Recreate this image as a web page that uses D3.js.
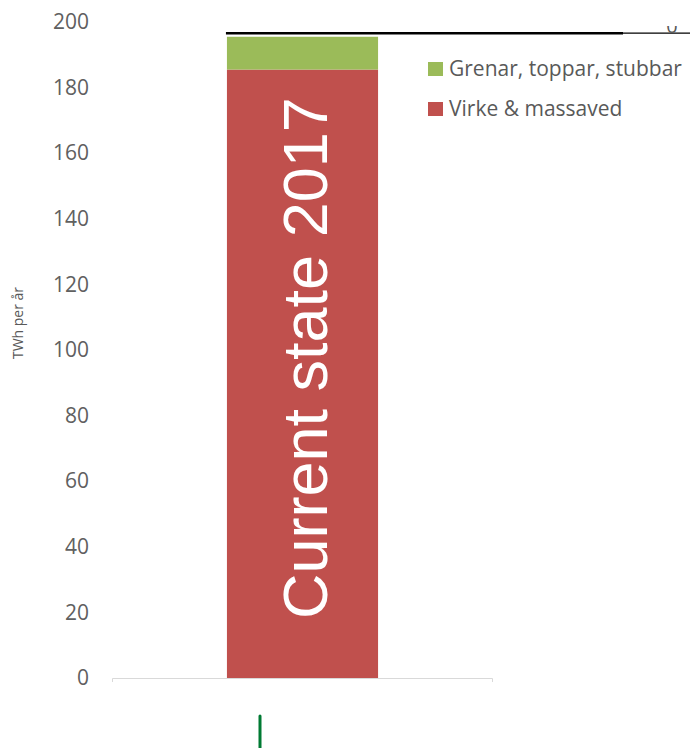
<!DOCTYPE html>
<html>
<head>
    <script src="https://d3js.org/d3.v7.min.js"></script>
    <style>
        body {
            margin: 0;
            background-color: white;
        }

        svg text {
            font-family: 'Open Sans', sans-serif;
        }
    </style>
</head>
<body>
    <svg id="chart" width="690" height="748"></svg>
    <script>
        // data
        var categories = ['Current state 2017'];
        var seriesNames = ['Virke & massaved', 'Grenar, toppar, stubbar'];
        var virke = [185.5];
        var grenar = [10];
        var yTicks = [0, 20, 40, 60, 80, 100, 120, 140, 160, 180, 200];
        var lineValue = 196.6;
        var colors = ['#C0504D', '#9BBB59'];

        var svg = d3.select('#chart');

        var y = d3.scaleLinear().domain([0, 200]).range([678, 22]);
        var x = d3.scaleBand().domain(categories).range([112, 493])
            .paddingInner(0.432).paddingOuter(0.432);

        // y tick labels (no axis line in original)
        var yAxis = d3.axisLeft(y).tickValues(yTicks).tickSize(0).tickPadding(0);
        var gy = svg.append('g')
            .attr('transform', 'translate(89,0)')
            .call(yAxis);
        gy.select('.domain').remove();
        gy.selectAll('text')
            .attr('fill', '#606060')
            .style('font-size', '21px')
            .style('font-family', "'Open Sans', sans-serif");

        // y title
        svg.append('text')
            .attr('transform', 'translate(23,323) rotate(-90)')
            .attr('text-anchor', 'middle')
            .attr('fill', '#595959')
            .style('font-size', '14px')
            .text('TWh per år');

        // stacked bars
        var stackData = categories.map(function (c, i) {
            return { cat: c, v: virke[i], g: grenar[i] };
        });
        var stack = d3.stack().keys(['v', 'g'])(stackData);

        svg.append('g')
            .selectAll('g')
            .data(stack)
            .join('g')
            .attr('fill', function (d, i) { return colors[i]; })
            .selectAll('rect')
            .data(function (d) { return d; })
            .join('rect')
            .attr('x', function (d) { return x(d.data.cat); })
            .attr('y', function (d) { return y(d[1]); })
            .attr('width', x.bandwidth())
            .attr('height', function (d) { return y(d[0]) - y(d[1]); });

        // x axis line
        var xAxis = d3.axisBottom(x).tickSize(0).tickFormat('');
        var gx = svg.append('g')
            .attr('transform', 'translate(0,' + y(0) + ')')
            .call(xAxis);
        gx.select('.domain')
            .attr('stroke', '#d9d9d9')
            .attr('d', 'M112.5,4V0.5H492.5V4');

        // big label inside bar
        categories.forEach(function (c) {
            svg.append('text')
                .attr('transform', 'translate(' + (x(c) + x.bandwidth() / 2 + 24) + ',619) rotate(-90)')
                .attr('fill', 'white')
                .style('font-family', "'Liberation Sans', Arial, sans-serif")
                .style('font-size', '63px')
                .text(c);
        });

        // line across the top
        svg.append('line')
            .attr('x1', x(categories[0]) - 1).attr('x2', 623)
            .attr('y1', y(lineValue)).attr('y2', y(lineValue))
            .attr('stroke', 'black').attr('stroke-width', 2.5);
        svg.append('line')
            .attr('x1', 623).attr('x2', 690)
            .attr('y1', y(lineValue)).attr('y2', y(lineValue))
            .attr('stroke', 'black').attr('stroke-width', 1.2);

        // partly hidden "0"
        svg.append('clipPath').attr('id', 'zclip')
            .append('rect').attr('x', 660).attr('y', 26).attr('width', 30).attr('height', 7);
        svg.append('text')
            .attr('x', 672).attr('y', 33)
            .attr('text-anchor', 'middle')
            .attr('fill', '#595959')
            .attr('clip-path', 'url(#zclip)')
            .style('font-size', '20px')
            .text('0');

        // legend
        var legendItems = [seriesNames[1], seriesNames[0]];
        var legendColors = [colors[1], colors[0]];
        var legend = svg.append('g')
            .selectAll('g')
            .data(legendItems)
            .join('g')
            .attr('transform', function (d, i) { return 'translate(428,' + (62 + i * 40) + ')'; });
        legend.append('rect')
            .attr('width', 15).attr('height', 14)
            .attr('fill', function (d, i) { return legendColors[i]; });
        legend.append('text')
            .attr('x', 21).attr('y', 14)
            .attr('fill', '#595959')
            .style('font-size', '21px')
            .text(function (d) { return d; });

        // green marker below the axis
        svg.append('line')
            .attr('x1', 260).attr('x2', 260)
            .attr('y1', 716).attr('y2', 748)
            .attr('stroke', '#007a33').attr('stroke-width', 3)
            .attr('stroke-linecap', 'round');
    </script>
</body>
</html>
